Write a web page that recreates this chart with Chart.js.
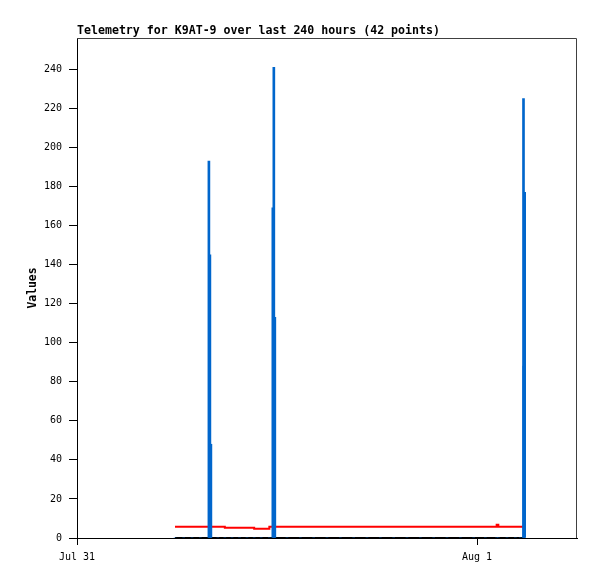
<!DOCTYPE html>
<html><head><meta charset="utf-8">
<script src="https://cdn.jsdelivr.net/npm/chart.js@4.4.0/dist/chart.umd.min.js"></script>
<style>html,body{margin:0;padding:0;background:#fff;}#wrap{width:597px;height:579px;}</style>
</head><body><div id="wrap"><canvas id="c" width="597" height="579"></canvas></div>
<script>
const titleText = 'Telemetry for K9AT-9 over last 240 hours (42 points)';
const yAxisTitle = 'Values';
// hours since Jul 31 00:00
const hours = [
  5.88, 6.40, 6.90, 7.40, 7.914, 7.974, 8.034, 8.45, 8.87, 9.30,
  9.75, 10.20, 10.63, 11.05, 11.54, 11.75, 11.81, 11.87, 12.60, 13.40,
  14.20, 15.00, 15.80, 16.60, 17.40, 18.20, 19.00, 19.80, 20.60, 21.40,
  22.20, 23.00, 23.80, 24.50, 25.18, 25.28, 25.80, 26.30, 26.60, 26.79,
  26.81, 26.86
];
const seriesBlue = [
  0, 0, 0, 0, 193, 145, 48, 0, 0, 0,
  0, 0, 0, 0, 0, 169, 241, 113, 0, 0,
  0, 0, 0, 0, 0, 0, 0, 0, 0, 0,
  0, 0, 0, 0, 0, 0, 0, 0, 0, 225,
  88, 177
];
const seriesRed = [
  5.8, 5.8, 5.8, 5.8, 5.8, 5.8, 5.8, 5.8, 5.3, 5.3,
  5.3, 5.3, 4.8, 4.8, 5.8, 5.8, 5.8, 5.8, 5.8, 5.8,
  5.8, 5.8, 5.8, 5.8, 5.8, 5.8, 5.8, 5.8, 5.8, 5.8,
  5.8, 5.8, 5.8, 5.8, 6.8, 5.8, 5.8, 5.8, 5.8, 5.8,
  5.8, 5.8
];
const seriesBlack = [
  0, 0, 0, 0, 0, 0, 0, 0, 0, 0,
  0, 0, 0, 0, 0, 0, 0, 0, 0, 0,
  0, 0, 0, 0, 0, 0, 0, 0, 0, 0,
  0, 0, 0, 0, 0, 0, 0, 0, 0, 0,
  0, 0
];
const xTickHours = [0, 24];
const xTickLabels = ['Jul 31', 'Aug 1'];
const yTickValues = [0, 20, 40, 60, 80, 100, 120, 140, 160, 180, 200, 220, 240];
const xMin = 0, xMax = 30, yMin = 0, yMax = 256;

Chart.defaults.font.family = '"DejaVu Sans Mono", monospace';
Chart.defaults.font.size = 10;
Chart.defaults.color = '#000';

const framePlugin = {
  id: 'frame',
  afterDraw(chart) {
    const {ctx, chartArea: a} = chart;
    ctx.save();
    ctx.strokeStyle = '#404040';
    ctx.lineWidth = 1;
    ctx.beginPath();
    ctx.moveTo(a.left, Math.floor(a.top) + 0.5);
    ctx.lineTo(Math.round(a.right) - 0.5, Math.floor(a.top) + 0.5);
    ctx.lineTo(Math.round(a.right) - 0.5, a.bottom);
    ctx.stroke();
    ctx.fillStyle = '#000';
    ctx.font = 'bold 11.6px "DejaVu Sans Mono"';
    ctx.textAlign = 'left';
    ctx.textBaseline = 'alphabetic';
    ctx.fillText(titleText, a.left, 34);
    ctx.restore();
  }
};

new Chart(document.getElementById('c'), {
  type: 'bar',
  data: {
    datasets: [
      {
        type: 'bar',
        data: hours.map((h, i) => ({x: h, y: seriesBlue[i]})),
        backgroundColor: '#0066cc',
        borderWidth: 0,
        barThickness: 2,
        grouped: false,
        order: 0
      },
      {
        type: 'line',
        data: hours.map((h, i) => ({x: h, y: seriesRed[i]})),
        borderColor: '#ff0000',
        borderWidth: 2,
        pointRadius: 0,
        stepped: true,
        fill: false,
        order: 1
      },
      {
        type: 'line',
        data: hours.map((h, i) => ({x: h, y: seriesBlack[i]})),
        borderColor: '#000000',
        borderWidth: 2,
        pointRadius: 0,
        stepped: true,
        fill: false,
        order: 2
      }
    ]
  },
  options: {
    responsive: false,
    animation: false,
    devicePixelRatio: 1,
    events: [],
    layout: {padding: {left: 0, right: 20, top: 38, bottom: 0}},
    plugins: {legend: {display: false}, tooltip: {enabled: false}, title: {display: false}},
    scales: {
      x: {
        type: 'linear', min: xMin, max: xMax, offset: false,
        afterBuildTicks: s => { s.ticks = xTickHours.map(v => ({value: v})); },
        afterFit: s => { s.height = 41; },
        grid: {drawOnChartArea: false, drawTicks: true, tickLength: 7, tickColor: '#000', color: '#000', offset: false},
        border: {display: true, color: '#000', width: 1},
        ticks: {
          padding: 6, autoSkip: false, maxRotation: 0, minRotation: 0, color: '#000',
          callback: v => { const i = xTickHours.indexOf(v); return i >= 0 ? xTickLabels[i] : ''; }
        }
      },
      y: {
        type: 'linear', min: yMin, max: yMax,
        afterBuildTicks: s => { s.ticks = yTickValues.map(v => ({value: v})); },
        afterFit: s => { s.width = 77; },
        grid: {drawOnChartArea: false, drawTicks: true, tickLength: 8, tickColor: '#000', color: '#000'},
        border: {display: true, color: '#000', width: 1},
        ticks: {padding: 7, color: '#000'},
        title: {display: true, text: yAxisTitle, color: '#000', font: {weight: 'bold', size: 11.4}, padding: {top: 26, bottom: 0}}
      }
    }
  },
  plugins: [framePlugin]
});
</script>
</body></html>
